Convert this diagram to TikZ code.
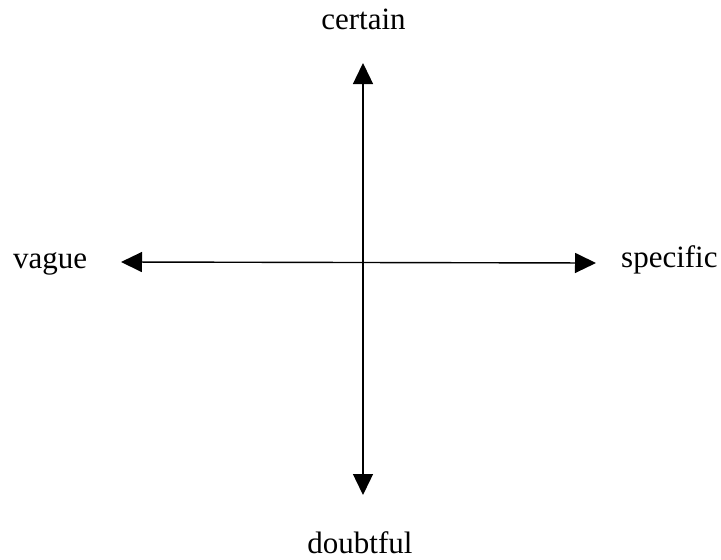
\documentclass[tikz,border=0pt]{standalone}
\usepackage{fontspec}
\setmainfont{Liberation Serif}
\usetikzlibrary{arrows.meta}
\begin{document}
\begin{tikzpicture}[x=1pt,y=-1pt,
  lbl/.style={inner sep=0pt,font=\fontsize{31}{31}\selectfont},
  axis/.style={line width=1.4pt,{Triangle[length=21pt,width=20pt]}-{Triangle[length=21pt,width=20pt]}}]
\useasboundingbox (0,0) rectangle (721,560);
\node[lbl,anchor=base] (certain) at (363.5,29) {certain};
\node[lbl,anchor=base west] (vague) at (13,268) {vague};
\node[lbl,anchor=base west] (specific) at (621,267) {specific};
\node[lbl,anchor=base] (doubtful) at (360,553) {doubtful};
\coordinate (top) at (363,63);
\coordinate (bottom) at (363,495);
\coordinate (left) at (121,262);
\coordinate (right) at (596,263);
\draw[axis] (top) -- (bottom);
\draw[axis] (left) -- (right);
\end{tikzpicture}
\end{document}
